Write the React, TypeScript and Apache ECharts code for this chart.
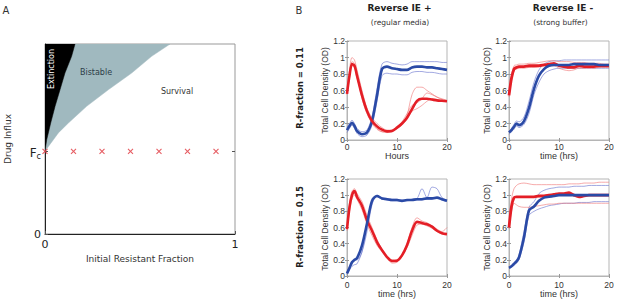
import React, { useEffect, useRef } from "react";
import * as echarts from "echarts";

// ---------- Panel A data ----------
const FC = 0.435;
const MARKER_X = [0, 0.15, 0.3, 0.45, 0.6, 0.75, 0.9];
const EXTINCTION_EDGE = [[0, 0.435], [0.009, 0.496], [0.03, 0.584], [0.053, 0.672], [0.079, 0.759], [0.105, 0.847], [0.14, 0.935], [0.158, 1]];
const BISTABLE_EDGE = [[0, 0.435], [0.018, 0.461], [0.044, 0.496], [0.07, 0.532], [0.123, 0.584], [0.219, 0.672], [0.333, 0.759], [0.456, 0.847], [0.561, 0.935], [0.658, 1]];

// ---------- Panel B data ----------
const T = [0, 0.5, 1, 1.5, 2, 3, 4, 5, 6, 7, 8, 9, 10, 11, 12, 13, 14, 15, 16, 17, 18, 19, 20];

// top-left: Reverse IE +, R = 0.11
const TL_BLUE = [0.12, 0.17, 0.21, 0.17, 0.11, 0.07, 0.09, 0.23, 0.54, 0.86, 0.89, 0.87, 0.86, 0.85, 0.85, 0.88, 0.89, 0.89, 0.88, 0.88, 0.87, 0.86, 0.85];
const TL_BLUE_HI = [0.15, 0.2, 0.24, 0.2, 0.14, 0.1, 0.12, 0.28, 0.62, 0.92, 0.95, 0.93, 0.92, 0.91, 0.92, 0.95, 0.95, 0.95, 0.95, 0.95, 0.95, 0.94, 0.94];
const TL_BLUE_LO = [0.09, 0.14, 0.18, 0.14, 0.08, 0.04, 0.06, 0.18, 0.47, 0.78, 0.81, 0.8, 0.8, 0.79, 0.79, 0.82, 0.83, 0.83, 0.82, 0.82, 0.81, 0.8, 0.8];
const TL_RED = [0.56, 0.78, 0.92, 0.9, 0.78, 0.54, 0.35, 0.23, 0.165, 0.125, 0.105, 0.11, 0.15, 0.2, 0.27, 0.375, 0.475, 0.5, 0.5, 0.49, 0.48, 0.475, 0.47];
const TL_RED_A = [0.6, 0.85, 1.0, 0.97, 0.85, 0.6, 0.38, 0.22, 0.14, 0.1, 0.09, 0.1, 0.14, 0.2, 0.3, 0.55, 0.64, 0.64, 0.6, 0.56, 0.52, 0.5, 0.48];
const TL_RED_B = [0.55, 0.75, 0.9, 0.88, 0.75, 0.55, 0.38, 0.27, 0.2, 0.15, 0.12, 0.12, 0.14, 0.18, 0.25, 0.35, 0.38, 0.42, 0.47, 0.5, 0.49, 0.48, 0.47];
const TL_RED_C = [0.57, 0.8, 0.95, 0.93, 0.8, 0.5, 0.32, 0.2, 0.13, 0.1, 0.1, 0.11, 0.16, 0.22, 0.32, 0.42, 0.45, 0.5, 0.57, 0.55, 0.52, 0.49, 0.47];

// top-right: Reverse IE -, R = 0.11
const TR_RED = [0.54, 0.75, 0.86, 0.88, 0.89, 0.89, 0.9, 0.9, 0.9, 0.91, 0.92, 0.93, 0.9, 0.89, 0.88, 0.88, 0.9, 0.89, 0.89, 0.89, 0.9, 0.9, 0.9];
const TR_RED_HI = [0.56, 0.78, 0.9, 0.91, 0.92, 0.92, 0.93, 0.93, 0.94, 0.95, 0.96, 0.96, 0.95, 0.95, 0.95, 0.94, 0.94, 0.94, 0.93, 0.93, 0.93, 0.92, 0.92];
const TR_RED_LO = [0.52, 0.72, 0.84, 0.86, 0.87, 0.87, 0.88, 0.88, 0.89, 0.9, 0.9, 0.9, 0.87, 0.85, 0.84, 0.85, 0.87, 0.87, 0.87, 0.87, 0.88, 0.88, 0.88];
const TR_BLUE = [0.09, 0.12, 0.16, 0.2, 0.18, 0.23, 0.39, 0.62, 0.78, 0.86, 0.9, 0.91, 0.91, 0.91, 0.91, 0.92, 0.92, 0.92, 0.92, 0.92, 0.91, 0.91, 0.91];
const TR_BLUE_HI = [0.11, 0.14, 0.19, 0.23, 0.22, 0.28, 0.47, 0.7, 0.85, 0.92, 0.95, 0.96, 0.96, 0.97, 0.97, 0.97, 0.97, 0.97, 0.97, 0.97, 0.97, 0.97, 0.97];
const TR_BLUE_LO = [0.07, 0.1, 0.13, 0.17, 0.15, 0.19, 0.32, 0.55, 0.7, 0.8, 0.84, 0.86, 0.87, 0.87, 0.87, 0.87, 0.87, 0.87, 0.87, 0.87, 0.87, 0.87, 0.87];

// bottom-left: Reverse IE +, R = 0.15
const BL_BLUE = [0.03, 0.1, 0.17, 0.2, 0.22, 0.38, 0.65, 0.93, 0.99, 0.96, 0.95, 0.94, 0.94, 0.93, 0.94, 0.94, 0.95, 0.95, 0.96, 0.96, 0.97, 0.95, 0.93];
const BL_BLUE_A = [0.05, 0.12, 0.18, 0.2, 0.2, 0.3, 0.55, 0.88, 1.0, 0.97, 0.96, 0.95, 0.95, 0.94, 0.94, 0.95, 0.96, 1.08, 0.97, 1.1, 1.08, 0.97, 0.94];
const BL_BLUE_B = [0.02, 0.08, 0.12, 0.14, 0.15, 0.3, 0.62, 0.9, 0.98, 0.95, 0.94, 0.93, 0.93, 0.93, 0.93, 0.94, 0.94, 0.94, 0.95, 0.95, 0.96, 0.94, 0.92];
const BL_RED = [0.58, 0.85, 1.0, 1.05, 0.98, 0.87, 0.69, 0.56, 0.42, 0.32, 0.235, 0.185, 0.19, 0.255, 0.38, 0.56, 0.67, 0.655, 0.64, 0.61, 0.56, 0.53, 0.52];
const BL_RED_A = [0.6, 0.9, 1.05, 1.08, 1.02, 0.92, 0.75, 0.6, 0.45, 0.33, 0.23, 0.16, 0.17, 0.24, 0.4, 0.6, 0.72, 0.68, 0.66, 0.62, 0.58, 0.55, 0.6];
const BL_RED_B = [0.56, 0.8, 0.96, 1.0, 0.95, 0.82, 0.64, 0.5, 0.38, 0.3, 0.24, 0.2, 0.2, 0.25, 0.35, 0.5, 0.63, 0.64, 0.62, 0.59, 0.55, 0.52, 0.5];

// bottom-right: Reverse IE -, R = 0.15
const BR_RED = [0.6, 0.86, 0.97, 0.98, 0.98, 0.98, 0.98, 0.98, 0.99, 0.99, 1.0, 1.01, 1.02, 1.02, 1.03, 1.0, 0.98, 0.99, 1.0, 1.0, 1.0, 1.0, 1.0];
const BR_RED_HI = [0.62, 0.95, 1.08, 1.12, 1.14, 1.15, 1.14, 1.13, 1.13, 1.13, 1.13, 1.13, 1.13, 1.13, 1.14, 1.14, 1.14, 1.15, 1.15, 1.15, 1.16, 1.16, 1.16];
const BR_RED_LO = [0.58, 0.8, 0.9, 0.88, 0.86, 0.85, 0.85, 0.86, 0.87, 0.88, 0.89, 0.89, 0.9, 0.9, 0.9, 0.9, 0.9, 0.9, 0.9, 0.9, 0.9, 0.9, 0.9];
const BR_BLUE = [0.1, 0.12, 0.15, 0.18, 0.23, 0.48, 0.81, 0.86, 0.93, 0.97, 0.98, 0.99, 1.0, 1.0, 1.0, 1.0, 1.0, 1.0, 1.0, 1.0, 1.0, 1.0, 1.0];
const BR_BLUE_HI = [0.11, 0.13, 0.17, 0.2, 0.26, 0.55, 0.85, 0.92, 1.02, 1.06, 1.08, 1.09, 1.1, 1.1, 1.1, 1.11, 1.11, 1.11, 1.12, 1.12, 1.12, 1.12, 1.12];
const BR_BLUE_LO = [0.09, 0.11, 0.13, 0.16, 0.2, 0.42, 0.75, 0.8, 0.83, 0.85, 0.87, 0.88, 0.89, 0.9, 0.9, 0.9, 0.91, 0.91, 0.91, 0.92, 0.92, 0.92, 0.92];

const X_NAMES = ["Hours", "time (hrs)", "time (hrs)", "time (hrs)"];

const BLUE = "#2a4aa6";
const RED = "#e41e26";
const BLUE_F = "rgba(100,112,205,0.6)";
const RED_F = "rgba(240,115,115,0.6)";
const SANS = "'Liberation Sans', Arial, sans-serif";
const DJ = "'DejaVu Sans', sans-serif";

const pts = (ys: number[]) => T.map((t, i) => [t, ys[i]]);

export default function App() {
  const ref = useRef<HTMLDivElement>(null);
  useEffect(() => {
    const chart = echarts.init(ref.current!, null, { renderer: "svg" });

    const bGrids = [
      { left: 347, top: 41, width: 100, height: 99 },
      { left: 509, top: 41, width: 100, height: 99 },
      { left: 347, top: 179, width: 100, height: 97 },
      { left: 509, top: 179, width: 100, height: 97 },
    ];
    const grids: any[] = [
      { left: 45, top: 44, width: 190, height: 190, show: true, borderColor: "#999", borderWidth: 1, backgroundColor: "#fff" },
      ...bGrids.map((g) => ({ ...g, show: true, borderColor: "#b5b5b5", borderWidth: 1 })),
    ];

    const xAxes: any[] = [
      {
        gridIndex: 0, type: "value", min: 0, max: 1, interval: 1,
        axisLine: { lineStyle: { color: "#222", width: 1 } },
        axisTick: { inside: true, length: 3, lineStyle: { color: "#555" } },
        splitLine: { show: false },
        axisLabel: { fontFamily: DJ, fontSize: 11, color: "#222", margin: 5 },
        name: "Initial Resistant Fraction", nameLocation: "middle", nameGap: 20,
        nameTextStyle: { fontFamily: DJ, fontSize: 9, color: "#333" },
      },
    ];
    const yAxes: any[] = [
      {
        gridIndex: 0, type: "value", min: 0, max: 1,
        axisLine: { lineStyle: { color: "#222", width: 1 } },
        axisTick: { inside: true, length: 3, customValues: [0, FC], lineStyle: { color: "#555" } },
        splitLine: { show: false },
        axisLabel: {
          customValues: [0, FC], margin: 4, color: "#222", fontFamily: DJ, fontSize: 11,
          formatter: (v: number) => (v < 0.01 ? "0" : "{f|F}{s|c}"),
          rich: { f: { fontFamily: DJ, fontSize: 12, color: "#222", padding: [3, 0, 0, 0] }, s: { fontFamily: DJ, fontSize: 8, color: "#222", padding: [10, 0, 0, 0] } },
        },
        name: "Drug Influx", nameLocation: "middle", nameGap: 33,
        nameTextStyle: { fontFamily: DJ, fontSize: 9, color: "#333" },
      },
      {
        gridIndex: 0, type: "value", min: 0, max: 1, position: "right",
        axisLine: { show: false },
        axisTick: { inside: true, length: 3, customValues: [FC], lineStyle: { color: "#555" } },
        axisLabel: { show: false }, splitLine: { show: false },
      },
    ];

    bGrids.forEach((_, k) => {
      const gi = k + 1;
      const bottom = k >= 2;
      xAxes.push({
        gridIndex: gi, type: "value", min: 0, max: 20, interval: 10,
        axisLine: { lineStyle: { color: "#b5b5b5" } },
        axisTick: { inside: true, length: 2, lineStyle: { color: "#999" } },
        splitLine: { show: false },
        axisLabel: { fontFamily: SANS, fontSize: 8.5, color: "#333", margin: bottom ? 4 : 2 },
        name: X_NAMES[k], nameLocation: "middle", nameGap: bottom ? 13 : 11,
        nameTextStyle: { fontFamily: SANS, fontSize: 9, color: "#333" },
      });
      yAxes.push({
        gridIndex: gi, type: "value", min: 0, max: 1.2, interval: 0.2,
        axisLine: { lineStyle: { color: "#b5b5b5" } },
        axisTick: { inside: true, length: 2, lineStyle: { color: "#999" } },
        splitLine: { show: false },
        axisLabel: { fontFamily: SANS, fontSize: 8.5, color: "#333", margin: 2 },
        name: "Total Cell Density (OD)", nameLocation: "middle", nameGap: 15,
        nameTextStyle: { fontFamily: SANS, fontSize: 8.5, color: "#333" },
      });
    });
    bGrids.forEach((_, k) => {
      const gi = k + 1;
      xAxes.push({
        gridIndex: gi, type: "value", min: 0, max: 20, interval: 10, position: "top",
        axisLine: { show: false }, axisTick: { inside: true, length: 2, lineStyle: { color: "#999" } },
        axisLabel: { show: false }, splitLine: { show: false },
      });
      yAxes.push({
        gridIndex: gi, type: "value", min: 0, max: 1.2, interval: 0.2, position: "right",
        axisLine: { show: false }, axisTick: { inside: true, length: 2, lineStyle: { color: "#999" } },
        axisLabel: { show: false }, splitLine: { show: false },
      });
    });

    const poly = (edge: number[][], closing: number[][], color: string, z: number) => ({
      type: "custom", xAxisIndex: 0, yAxisIndex: 0, z, clip: true, silent: true,
      data: [[0, FC]],
      renderItem: (params: any, api: any) => ({
        type: "polygon",
        shape: { points: [...edge, ...closing].map((p) => api.coord(p)) },
        style: { fill: color, stroke: color, lineWidth: 0.5 },
      }),
    });

    const line = (k: number, ys: number[], color: string, width: number, z: number) => ({
      type: "line", xAxisIndex: k + 1, yAxisIndex: k + 2, data: pts(ys),
      showSymbol: false, symbol: "none", smooth: 0.3, z, silent: true,
      lineStyle: { color, width },
    });

    const series: any[] = [
      poly(BISTABLE_EDGE, [[0, 1]], "#a0b9bf", 2),
      poly(EXTINCTION_EDGE, [[0, 1]], "#000000", 3),
      {
        type: "scatter", xAxisIndex: 0, yAxisIndex: 0, z: 5, silent: true,
        data: MARKER_X.map((x) => [x, FC]),
        symbol: "path://M0,0L10,10M10,0L0,10", symbolSize: 5,
        itemStyle: { color: "none", borderColor: "#e0343c", borderWidth: 1.1 },
      },
      // top-left
      line(0, TL_BLUE_HI, BLUE_F, 1, 2), line(0, TL_BLUE_LO, BLUE_F, 1, 2),
      line(0, TL_RED_A, RED_F, 1, 2), line(0, TL_RED_B, RED_F, 1, 2), line(0, TL_RED_C, RED_F, 1, 2),
      line(0, TL_BLUE, BLUE, 2.6, 3), line(0, TL_RED, RED, 2.6, 4),
      // top-right
      line(1, TR_BLUE_HI, BLUE_F, 1, 2), line(1, TR_BLUE_LO, BLUE_F, 1, 2),
      line(1, TR_RED_HI, RED_F, 1, 2), line(1, TR_RED_LO, RED_F, 1, 2),
      line(1, TR_RED, RED, 2.8, 3), line(1, TR_BLUE, BLUE, 2.6, 4),
      // bottom-left
      line(2, BL_BLUE_A, BLUE_F, 1, 2), line(2, BL_BLUE_B, BLUE_F, 1, 2),
      line(2, BL_RED_A, RED_F, 1, 2), line(2, BL_RED_B, RED_F, 1, 2),
      line(2, BL_RED, RED, 2.6, 3), line(2, BL_BLUE, BLUE, 2.6, 4),
      // bottom-right
      line(3, BR_BLUE_HI, BLUE_F, 1, 2), line(3, BR_BLUE_LO, BLUE_F, 1, 2),
      line(3, BR_RED_HI, RED_F, 1, 2), line(3, BR_RED_LO, RED_F, 1, 2),
      line(3, BR_RED, RED, 2.8, 3), line(3, BR_BLUE, BLUE, 2.6, 4),
    ];

    const txt = (text: string, x: number, y: number, size: number, opts: any = {}) => ({
      type: "text", x, y, rotation: opts.rotation || 0, z: 100,
      style: {
        text, fontSize: size, fontFamily: opts.font || DJ, fontWeight: opts.bold ? "bold" : "normal",
        fill: opts.color || "#222", align: "center", verticalAlign: "middle",
      },
    });

    chart.setOption({
      animation: false,
      backgroundColor: "#fff",
      grid: grids,
      xAxis: xAxes,
      yAxis: yAxes,
      series,
      graphic: [
        txt("A", 6, 10, 10, { color: "#333" }),
        txt("B", 299, 10, 10, { color: "#333" }),
        txt("Reverse IE +", 399.5, 7.5, 9, { bold: true }),
        txt("(regular media)", 400, 22, 7.5, { color: "#333" }),
        txt("Reverse IE -", 563, 7.5, 9, { bold: true }),
        txt("(strong buffer)", 560.5, 22, 7.5, { color: "#333" }),
        txt("R-fraction = 0.11", 300, 88, 8.5, { bold: true, rotation: Math.PI / 2 }),
        txt("R-fraction = 0.15", 300, 227, 8.5, { bold: true, rotation: Math.PI / 2 }),
        txt("Extinction", 51, 69, 8, { color: "#fff", rotation: Math.PI / 2 }),
        txt("Bistable", 96, 72, 8, { color: "#2d3d48" }),
        txt("Survival", 177, 91, 8, { color: "#333" }),
      ],
    });
    return () => chart.dispose();
  }, []);
  return <div ref={ref} style={{ position: "fixed", left: 0, top: 0, width: 617, height: 303, background: "#fff" }} />;
}
